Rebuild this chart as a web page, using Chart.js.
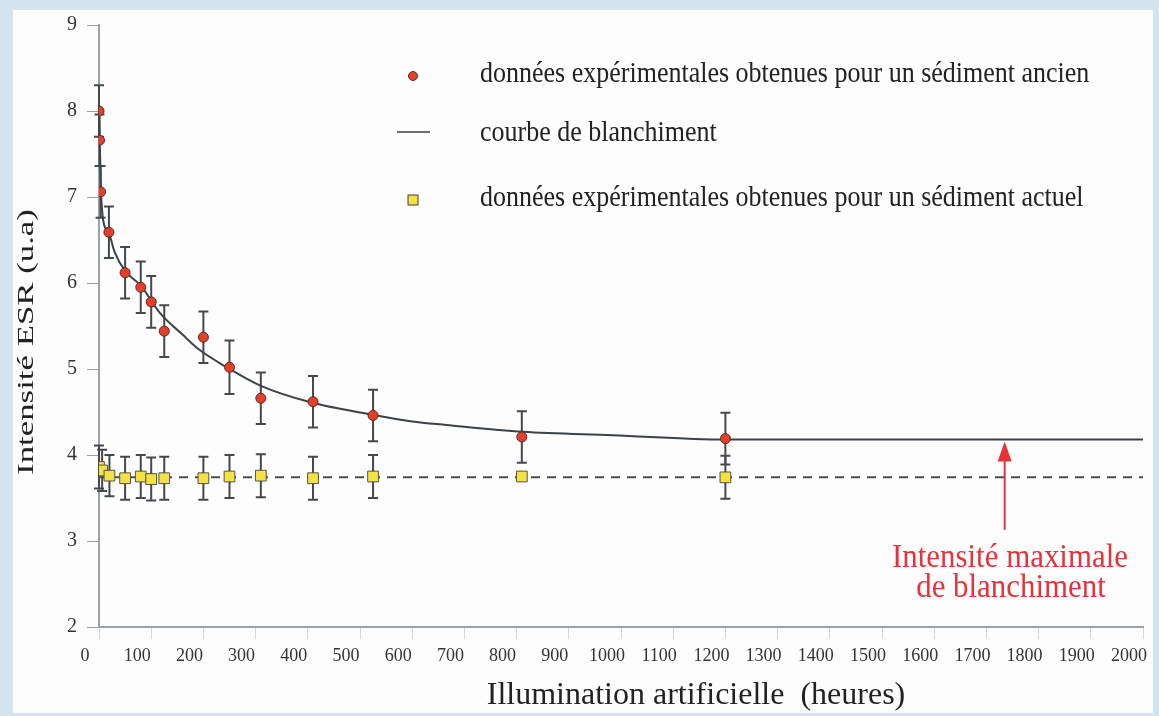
<!DOCTYPE html>
<html lang="fr">
<head>
<meta charset="utf-8">
<title>Blanchiment ESR</title>
<script src="https://cdn.jsdelivr.net/npm/chart.js@4.4.1/dist/chart.umd.min.js"></script>
<style>
  html, body { margin: 0; padding: 0; background: #d3e4ef; }
  #wrap { width: 1159px; height: 716px; }
  canvas { display: block; }
</style>
</head>
<body>
<div id="wrap"><canvas id="esr" width="1159" height="716"></canvas></div>
<script>
const SERIF = '"Liberation Serif", "DejaVu Serif", serif';

// sédiment ancien (heures d'illumination, intensité ESR, barre d'erreur)
const ancienHeures = [0, 1, 3, 19, 50, 80, 100, 125, 200, 250, 310, 410, 525, 810, 1200];
const ancienESR = [8.0, 7.66, 7.06, 6.59, 6.12, 5.95, 5.78, 5.44, 5.37, 5.02, 4.66, 4.62, 4.46, 4.21, 4.19];
const ancienErreur = [0.3, 0.3, 0.3, 0.3, 0.3, 0.3, 0.3, 0.3, 0.3, 0.31, 0.3, 0.3, 0.3, 0.3, 0.3];

// sédiment actuel
const actuelHeures = [0, 6, 20, 50, 80, 100, 125, 200, 250, 310, 410, 525, 810, 1200];
const actuelESR = [3.86, 3.82, 3.76, 3.73, 3.75, 3.72, 3.73, 3.73, 3.75, 3.76, 3.73, 3.75, 3.75, 3.74];
const actuelErreur = [0.25, 0.24, 0.24, 0.25, 0.25, 0.25, 0.25, 0.25, 0.25, 0.25, 0.25, 0.25, 0, 0.25];

// courbe de blanchiment
const courbeHeures = [0, 2, 4, 8, 19, 30, 50, 80, 117, 160, 193, 242, 308, 407, 523, 600, 665, 812, 984, 1200, 2000];
const courbeESR = [8.0, 7.5, 7.05, 6.73, 6.58, 6.36, 6.14, 5.97, 5.65, 5.4, 5.22, 5.03, 4.81, 4.61, 4.47, 4.39, 4.35, 4.27, 4.23, 4.18, 4.18];

// niveau moyen du sédiment actuel (pointillés)
const niveauHeures = [0, 2000];
const niveauESR = [3.74, 3.74];

// flèche : intensité maximale de blanchiment
const flecheHeures = 1735;
const flecheBas = 3.13;
const flecheHaut = 4.18;

const yTicks = [2, 3, 4, 5, 6, 7, 8, 9];

const legendItems = [
  { type: 'circle', text: 'données expérimentales obtenues pour un sédiment ancien', y: 76, base: 82 },
  { type: 'line', text: 'courbe de blanchiment', y: 132, base: 141 },
  { type: 'square', text: 'données expérimentales obtenues pour un sédiment actuel', y: 200, base: 206 }
];

const RED = '#e43f2b';
const YELLOW = '#f3e244';
const INK = '#3d4246';

const toXY = (xs, ys) => xs.map((x, i) => ({ x, y: ys[i] }));

// texte étiré verticalement (ou le long de l'axe pour le titre vertical)
function stretchedText(ctx, text, x, y, sx, sy) {
  ctx.save();
  ctx.translate(x, y);
  ctx.scale(sx, sy);
  ctx.fillText(text, 0, 0);
  ctx.restore();
}

const panel = {
  id: 'panel',
  beforeDraw(chart) {
    const ctx = chart.ctx;
    ctx.save();
    ctx.fillStyle = '#fdfdfd';
    ctx.fillRect(13, 10, 1140, 703);
    ctx.restore();
  }
};

// barres d'erreur, dessinées sous les marqueurs
const errorBars = {
  id: 'errorBars',
  beforeDatasetsDraw(chart) {
    const { ctx, scales: { x, y } } = chart;
    const sets = [
      [ancienHeures, ancienESR, ancienErreur],
      [actuelHeures, actuelESR, actuelErreur]
    ];
    ctx.save();
    ctx.strokeStyle = '#44494e';
    ctx.lineWidth = 2;
    sets.forEach(([hs, vs, es]) => {
      hs.forEach((h, i) => {
        if (!es[i]) return;
        const px = x.getPixelForValue(h);
        const top = y.getPixelForValue(vs[i] + es[i]);
        const bot = y.getPixelForValue(vs[i] - es[i]);
        ctx.beginPath();
        ctx.moveTo(px, top); ctx.lineTo(px, bot);
        ctx.moveTo(px - 5, top); ctx.lineTo(px + 5, top);
        ctx.moveTo(px - 5, bot); ctx.lineTo(px + 5, bot);
        ctx.stroke();
      });
    });
    ctx.restore();
  }
};

const annotations = {
  id: 'annotations',
  afterDraw(chart) {
    const { ctx, scales: { x, y } } = chart;
    ctx.save();

    // légende
    ctx.font = '26px ' + SERIF;
    ctx.textBaseline = 'alphabetic';
    legendItems.forEach(item => {
      const mx = 413;
      ctx.strokeStyle = '#4a3a36';
      ctx.lineWidth = 1;
      if (item.type === 'circle') {
        ctx.beginPath();
        ctx.arc(mx, item.y, 4.5, 0, Math.PI * 2);
        ctx.fillStyle = RED;
        ctx.fill();
        ctx.stroke();
      } else if (item.type === 'square') {
        ctx.fillStyle = YELLOW;
        ctx.fillRect(mx - 5, item.y - 5, 10, 10);
        ctx.strokeRect(mx - 5, item.y - 5, 10, 10);
      } else {
        ctx.strokeStyle = INK;
        ctx.lineWidth = 1.5;
        ctx.beginPath();
        ctx.moveTo(397, item.y); ctx.lineTo(430, item.y);
        ctx.stroke();
      }
      ctx.fillStyle = '#222';
      ctx.textAlign = 'left';
      stretchedText(ctx, item.text, 480, item.base, 1, 1.15);
    });

    // titres des axes
    ctx.fillStyle = '#222';
    ctx.font = '32px ' + SERIF;
    ctx.textAlign = 'center';
    ctx.fillText('Illumination artificielle  (heures)', 696, 704);

    ctx.save();
    ctx.translate(33, 342);
    ctx.rotate(-Math.PI / 2);
    ctx.font = '24px ' + SERIF;
    stretchedText(ctx, 'Intensité ESR (u.a)', 0, 0, 1.45, 1);
    ctx.restore();

    // flèche rouge
    const ax = x.getPixelForValue(flecheHeures);
    const aTop = y.getPixelForValue(flecheHaut);
    const aBot = y.getPixelForValue(flecheBas);
    ctx.strokeStyle = '#e8323a';
    ctx.fillStyle = '#e8323a';
    ctx.lineWidth = 2;
    ctx.beginPath();
    ctx.moveTo(ax, aBot); ctx.lineTo(ax, aTop + 18);
    ctx.stroke();
    ctx.beginPath();
    ctx.moveTo(ax, aTop + 2);
    ctx.lineTo(ax - 7, aTop + 22);
    ctx.lineTo(ax + 7, aTop + 22);
    ctx.closePath();
    ctx.fill();

    ctx.font = '30px ' + SERIF;
    ctx.textAlign = 'center';
    stretchedText(ctx, 'Intensité maximale', 1010, 567, 1.03, 1.1);
    stretchedText(ctx, 'de blanchiment', 1011, 597, 1.03, 1.1);
    ctx.restore();
  }
};

new Chart(document.getElementById('esr'), {
  type: 'scatter',
  data: {
    datasets: [
      {
        label: 'données expérimentales obtenues pour un sédiment ancien',
        data: toXY(ancienHeures, ancienESR),
        pointStyle: 'circle',
        pointRadius: 5,
        pointBackgroundColor: RED,
        pointBorderColor: '#5a2a22',
        pointBorderWidth: 1,
        showLine: false,
        order: 0
      },
      {
        label: 'données expérimentales obtenues pour un sédiment actuel',
        data: toXY(actuelHeures, actuelESR),
        pointStyle: 'rect',
        pointRadius: 7.6,
        pointBackgroundColor: YELLOW,
        pointBorderColor: '#55524a',
        pointBorderWidth: 1,
        showLine: false,
        order: 1
      },
      {
        label: 'courbe de blanchiment',
        data: toXY(courbeHeures, courbeESR),
        showLine: true,
        pointRadius: 0,
        borderColor: INK,
        borderWidth: 2,
        cubicInterpolationMode: 'monotone',
        order: 2
      },
      {
        label: 'niveau actuel',
        data: toXY(niveauHeures, niveauESR),
        showLine: true,
        pointRadius: 0,
        borderColor: '#4a4e52',
        borderWidth: 2,
        borderDash: [9, 7],
        order: 3
      }
    ]
  },
  options: {
    responsive: false,
    animation: false,
    layout: { padding: { left: 0, top: 25, right: 16, bottom: 0 } },
    plugins: {
      legend: { display: false },
      tooltip: { enabled: false }
    },
    scales: {
      x: {
        type: 'linear',
        min: 0,
        max: 2000,
        afterFit(scale) {
          scale.height = 89;
          scale.paddingLeft = 0;
          scale.paddingRight = 16;
        },
        ticks: {
          stepSize: 100,
          autoSkip: false,
          maxRotation: 0,
          padding: 6,
          labelOffset: -14,
          color: '#333',
          font: { family: SERIF, size: 18 },
          callback: v => String(v)
        },
        grid: { drawOnChartArea: false, tickLength: 12, tickColor: '#d6d6d6' },
        border: { color: '#9aa1a7', width: 2 }
      },
      y: {
        min: 2,
        max: 9,
        afterFit(scale) { scale.width = 99; },
        afterBuildTicks(scale) { scale.ticks = yTicks.map(v => ({ value: v })); },
        ticks: {
          padding: 10,
          color: '#333',
          font: { family: SERIF, size: 20 }
        },
        grid: { drawOnChartArea: false, tickLength: 12, tickColor: '#9aa1a7' },
        border: { color: '#9aa1a7', width: 2 },
        title: { display: false }
      }
    }
  },
  plugins: [panel, errorBars, annotations]
});
</script>
</body>
</html>
